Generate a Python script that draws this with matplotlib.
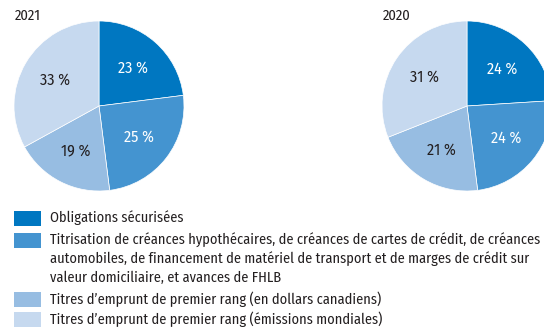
import matplotlib
matplotlib.use("Agg")
import matplotlib.pyplot as plt
from matplotlib.patches import Rectangle

plt.rcParams['font.family'] = ['Fira Sans Condensed', 'DejaVu Sans']

W, H = 544, 331

years = ['2021', '2020']
shares_2021 = [23, 25, 19, 33]
shares_2020 = [24, 24, 21, 31]
categories = [
    'Obligations sécurisées',
    'Titrisation de créances hypothécaires, de créances de cartes de crédit, de créances\n'
    'automobiles, de financement de matériel de transport et de marges de crédit sur\n'
    'valeur domiciliaire, et avances de FHLB',
    'Titres d\u2019emprunt de premier rang (en dollars canadiens)',
    'Titres d\u2019emprunt de premier rang (émissions mondiales)',
]

colors = ['#0077c1', '#4494d0', '#97bde2', '#c6d9ef']
label_colors = ['white', 'white', '#231f20', '#231f20']

fig = plt.figure(figsize=(W / 100, H / 100), dpi=100)


def px_axes(x0, y0, w, h):
    # pixel box measured from the top-left corner
    return fig.add_axes([x0 / W, 1 - (y0 + h) / H, w / W, h / H])


pie_boxes = [(14, 21), (382, 21)]
for (x0, y0), year, shares in zip(pie_boxes, years, [shares_2021, shares_2020]):
    ax = px_axes(x0, y0, 170, 170)
    wedges, texts = ax.pie(shares, colors=colors, startangle=90, counterclock=False,
                           labels=[f'{v} %' for v in shares], labeldistance=0.6,
                           wedgeprops=dict(linewidth=0.5, edgecolor='white'))
    for t, c in zip(texts, label_colors):
        t.set_color(c)
        t.set_fontsize(11.5)
        t.set_ha('center')
        t.set_va('center')
    ax.set_xlim(-1, 1)
    ax.set_ylim(-1, 1)
    ax.set_aspect('equal')
    fig.text((x0 + 0.5) / W, 1 - 15.5 / H, year, fontsize=10.5, color='#231f20',
             ha='left', va='center')

# legend
row_tops = [211, 233, 292, 312]
for top, color, label in zip(row_tops, colors, categories):
    fig.add_artist(Rectangle((14 / W, 1 - (top + 15) / H), 27 / W, 15 / H,
                             facecolor=color, edgecolor='none',
                             transform=fig.transFigure))
    fig.text(50 / W, 1 - (top - 1) / H, label, fontsize=10.3, color='#231f20',
             ha='left', va='top', linespacing=1.38)

fig.savefig('out.png', dpi=100)
